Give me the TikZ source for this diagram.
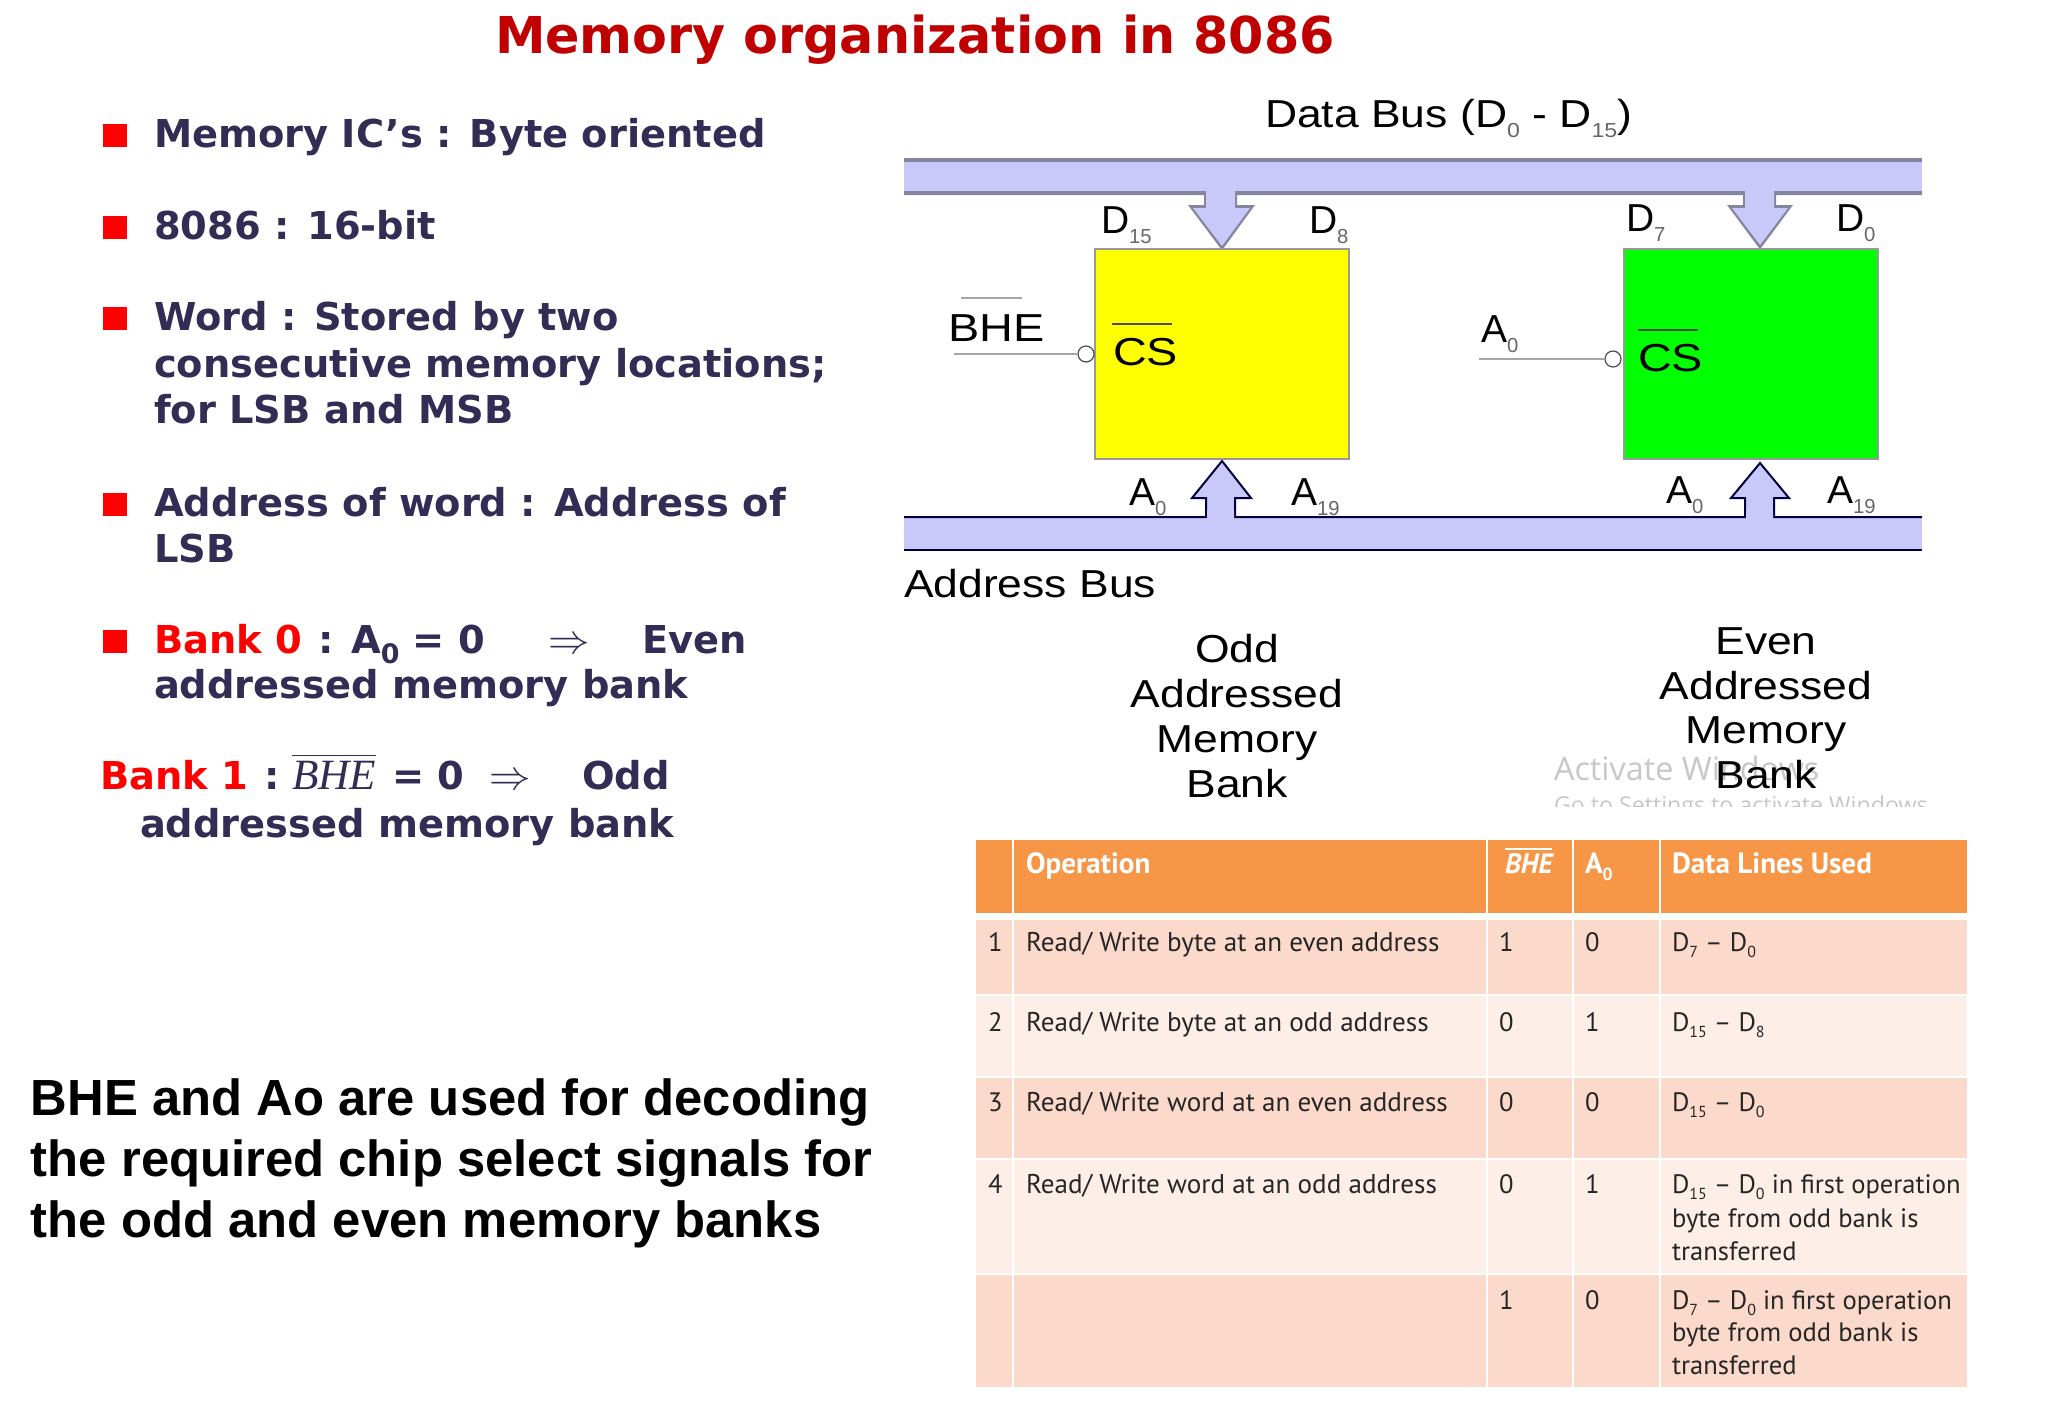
\documentclass[tikz,border=0pt]{standalone}
\usepackage{amsmath,amssymb}
\usepackage{graphicx}
\usepackage{fontspec}
\setmainfont{Liberation Sans}
\newfontfamily\slidefont{DejaVu Sans}
\newfontfamily\tablefont{PT Sans}
\newfontfamily\serifmath{Liberation Serif}
\newfontfamily\noticefont{Open Sans}
\newfontfamily\busfont{Liberation Sans}[FakeStretch=1.14]
\newfontfamily\pinfont{Liberation Sans}[FakeStretch=1.2]
\usepackage{tikz}
\definecolor{titlered}{HTML}{C00000}
\definecolor{bulletred}{HTML}{FF0000}
\definecolor{slideink}{HTML}{332C54}
\definecolor{busfill}{HTML}{C9C9F9}
\definecolor{busedge}{HTML}{85859F}
\definecolor{headfill}{HTML}{F79646}
\definecolor{rowdark}{HTML}{FBD9CB}
\definecolor{rowlight}{HTML}{FDEEE8}
\definecolor{bankyellow}{HTML}{FFFF00}
\definecolor{bankgreen}{HTML}{00FF00}
\newcommand{\lowtext}[1]{\raisebox{-0.28em}{\scalebox{0.52}{\textcolor{black!60}{#1}}}}
\newcommand{\lowcell}[1]{\raisebox{-0.26em}{\scalebox{0.6}{#1}}}

\begin{document}
\begin{tikzpicture}[x=0.5pt,y=-0.5pt,
    txt/.style={anchor=base west,inner sep=0pt,outer sep=0pt},
    slide/.style={txt,text=slideink,font=\slidefont\bfseries\fontsize{19.2}{23}\selectfont},
    bankred/.style={slide,text=bulletred},
    bul/.style={fill=bulletred,draw=none,inner sep=0pt,minimum width=12pt,minimum height=11.5pt,anchor=south west},
    bus/.style={txt,font=\busfont\fontsize{19.5}{23}\selectfont},
    pinlabel/.style={txt,font=\fontsize{19.5}{23}\selectfont},
    pinname/.style={txt,font=\pinfont\fontsize{19.5}{23}\selectfont},
    bankname/.style={anchor=base,inner sep=0pt,font=\busfont\fontsize{19.5}{23}\selectfont},
    bubble/.style={circle,draw=black!70,fill=white,line width=0.6pt,inner sep=0pt,minimum size=8pt},
    wire/.style={draw=black!35,line width=1pt},
    cell/.style={txt,text=black!85,font=\tablefont\fontsize{13.3}{16}\selectfont},
    opcell/.style={cell,font=\tablefont\fontsize{13.55}{16}\selectfont},
    headcell/.style={txt,text=white,font=\tablefont\bfseries\fontsize{14.6}{16}\selectfont},
    bottomline/.style={txt,font=\bfseries\fontsize{25.4}{30}\selectfont}]
    \useasboundingbox (0,0) rectangle (2048,1414);
    % title
    \node[txt,text=titlered,font=\slidefont\bfseries\fontsize{25.4}{30}\selectfont] (title) at (495,53) {Memory organization in 8086};
    % left column
    \foreach \nm/\yb in {a/147,b/239,c/330,d/516,e/653}
      \node[bul] (bul\nm) at (103,\yb) {};
    \node[slide] (memic) at (154,147) {Memory IC’s : Byte oriented};
    \node[slide] (bits) at (154,239) {8086 : 16-bit};
    \node[slide] (wordA) at (154,330) {Word : Stored by two};
    \node[slide] (wordB) at (154,377) {consecutive memory locations;};
    \node[slide] (wordC) at (154,423) {for LSB and MSB};
    \node[slide] (addrA) at (154,516) {Address of word : Address of};
    \node[slide] (addrB) at (154,562) {LSB};
    \node[bankred] (bankA) at (154,653) {Bank 0};
    \node[slide] (bankAa) at (318,653) {: A\raisebox{-0.28em}{\scalebox{0.7}{0}} = 0};
    \node[slide] (bankAb) at (548,653) {$\Rightarrow$};
    \node[slide] (bankAc) at (642,653) {Even};
    \node[slide] (bankAd) at (154,698) {addressed memory bank};
    \node[bankred] (bankB) at (100,789) {Bank 1};
    \node[slide] (bankBa) at (264,789) {:};
    \node[slide] (bankBb) at (292,789) {$\overline{\hbox{\serifmath\itshape\mdseries\fontsize{21.6}{24}\selectfont BHE}}$};
    \node[slide] (bankBc) at (392,789) {= 0};
    \node[slide] (bankBd) at (489,789) {$\Rightarrow$};
    \node[slide] (bankBe) at (582,789) {Odd};
    \node[slide] (bankBf) at (140,837) {addressed memory bank};
    \foreach \nm/\yb/\txtline in {f/1115/{BHE and Ao are used for decoding},g/1176/{the required chip select signals for},h/1237/{the odd and even memory banks}}
      \node[bottomline] (bottom\nm) at (31,\yb) {\txtline};
    % windows notice, under the bank name
    \node[txt,text=black!22,font=\noticefont\fontsize{16.2}{20}\selectfont] (noticeA) at (1554,780) {Activate Windows};
    \begin{scope}
      \clip (1540,790) rectangle (1925,806);
      \node[txt,text=black!22,font=\noticefont\fontsize{11.6}{14}\selectfont] (noticeB) at (1554,813) {Go to Settings to activate Windows};
    \end{scope}
    % buses
    \filldraw[fill=busfill,draw=none] (904,158) rectangle (1922,194);
    \filldraw[fill=busfill,draw=none] (904,517) rectangle (1922,550);
    \draw[busedge,line width=2pt] (904,160) -- (1922,160);
    \draw[busedge,line width=2pt] (904,193) -- (1206,193) -- (1206,207) -- (1192,207) -- (1222,247) -- (1251,207) -- (1235,207) -- (1235,193) -- (1745,193) -- (1745,207) -- (1731,207) -- (1760,246) -- (1789,207) -- (1774,207) -- (1774,193) -- (1922,193);
    \fill[busfill] (1206,190) rectangle (1235,208) (1745,190) rectangle (1774,208);
    \fill[busfill] (1193,208) -- (1222,246) -- (1250,208) -- cycle (1732,208) -- (1760,245) -- (1788,208) -- cycle;
    \draw[black!75!blue,line width=1pt] (904,550) -- (1922,550);
    \draw[black!75!blue,line width=1pt,fill=busfill] (904,517) -- (1206,517) -- (1206,498) -- (1192,498) -- (1222,461) -- (1251,498) -- (1235,498) -- (1235,517) -- (1745,517) -- (1745,498) -- (1731,498) -- (1760,463) -- (1789,498) -- (1774,498) -- (1774,517) -- (1922,517);
    \fill[busfill] (1207,510) rectangle (1234,530) (1746,510) rectangle (1773,530);
    % memory banks
    \draw[black!40,line width=1pt,fill=bankyellow] (1095,249) rectangle (1349,459);
    \draw[black!40,line width=1pt,fill=bankgreen] (1624,249) rectangle (1878,459);
    % labels round the banks
    \node[bus] (databus) at (1265,127) {Data Bus (D\lowtext{0} - D\lowtext{15})};
    \node[bus] (addrbus) at (904,597) {Address Bus};
    \node[pinlabel] (dA) at (1101,233) {D\lowtext{15}};
    \node[pinlabel] (dB) at (1309,233) {D\lowtext{8}};
    \node[pinlabel] (dC) at (1626,231) {D\lowtext{7}};
    \node[pinlabel] (dD) at (1836,231) {D\lowtext{0}};
    \node[pinlabel] (aA) at (1129,505) {A\lowtext{0}};
    \node[pinlabel] (aB) at (1291,505) {A\lowtext{19}};
    \node[pinlabel] (aC) at (1666,503) {A\lowtext{0}};
    \node[pinlabel] (aD) at (1827,503) {A\lowtext{19}};
    \node[pinname] (bhe) at (948,341) {BHE};
    \draw[wire] (961,298) -- (1022,298);
    \node[pinlabel] (aE) at (1481,342) {A\lowtext{0}};
    \node[pinname] (csA) at (1113,365) {CS};
    \draw[black!70,line width=0.6pt] (1112,324) -- (1172,324);
    \node[pinname] (csB) at (1638,371) {CS};
    \draw[black!70,line width=0.6pt] (1638,330) -- (1698,330);
    \node[bubble] (bubA) at (1086,354) {};
    \node[bubble] (bubB) at (1613,359) {};
    \coordinate (bheend) at (954,354);
    \coordinate (aend) at (1479,359);
    \draw[wire] (bheend) -- (bubA);
    \draw[wire] (aend) -- (bubB);
    % bank names
    \foreach \nm/\yb/\txtline in {a/662/Odd,b/707/Addressed,c/752/Memory,d/797/Bank}
      \node[bankname] (odd\nm) at (1237,\yb) {\txtline};
    \foreach \nm/\yb/\txtline in {a/654/Even,b/699/Addressed,c/743/Memory,d/788/Bank}
      \node[bankname] (even\nm) at (1766,\yb) {\txtline};
    % table
    \fill[headfill] (976,840) rectangle (1967,913);
    \fill[rowdark] (976,920) rectangle (1967,994);
    \fill[rowlight] (976,996) rectangle (1967,1076);
    \fill[rowdark] (976,1078) rectangle (1967,1158);
    \fill[rowlight] (976,1160) rectangle (1967,1273);
    \fill[rowdark] (976,1275) rectangle (1967,1387);
    \foreach \xc in {1013,1487,1573,1660}
      \draw[white,line width=1.2pt] (\xc,840) -- (\xc,1387);
    \node[headcell] (hOp) at (1026,873) {Operation};
    \node[headcell] (hBhe) at (1505,873) {$\overline{\hbox{\tablefont\bfseries\itshape\fontsize{14}{16}\selectfont\color{white}BHE}}$};
    \node[headcell] (hAo) at (1585,873) {A\lowcell{0}};
    \node[headcell] (hData) at (1672,873) {Data Lines Used};
    \foreach \nm/\yb/\opname/\bheval/\aoval/\lines in {
        1/951/{Read/ Write byte at an even address}/1/0/{D\lowcell{7} – D\lowcell{0}},
        2/1031/{Read/ Write byte at an odd address}/0/1/{D\lowcell{15} – D\lowcell{8}},
        3/1111/{Read/ Write word at an even address}/0/0/{D\lowcell{15} – D\lowcell{0}},
        4/1193/{Read/ Write word at an odd address}/0/1/{D\lowcell{15} – D\lowcell{0} in first operation}} {
      \node[cell] (num\nm) at (988,\yb) {\nm};
      \node[opcell] (op\nm) at (1026,\yb) {\opname};
      \node[cell] (bhe\nm) at (1499,\yb) {\bheval};
      \node[cell] (ao\nm) at (1585,\yb) {\aoval};
      \node[cell] (data\nm) at (1672,\yb) {\lines};
    }
    \node[cell] (dataFb) at (1672,1227) {byte from odd bank is};
    \node[cell] (dataFc) at (1672,1260) {transferred};
    \node[cell] (bheG) at (1499,1309) {1};
    \node[cell] (aoG) at (1585,1309) {0};
    \node[cell] (dataGa) at (1672,1309) {D\lowcell{7} – D\lowcell{0} in first operation};
    \node[cell] (dataGb) at (1672,1341) {byte from odd bank is};
    \node[cell] (dataGc) at (1672,1374) {transferred};
  \end{tikzpicture}
\end{document}
